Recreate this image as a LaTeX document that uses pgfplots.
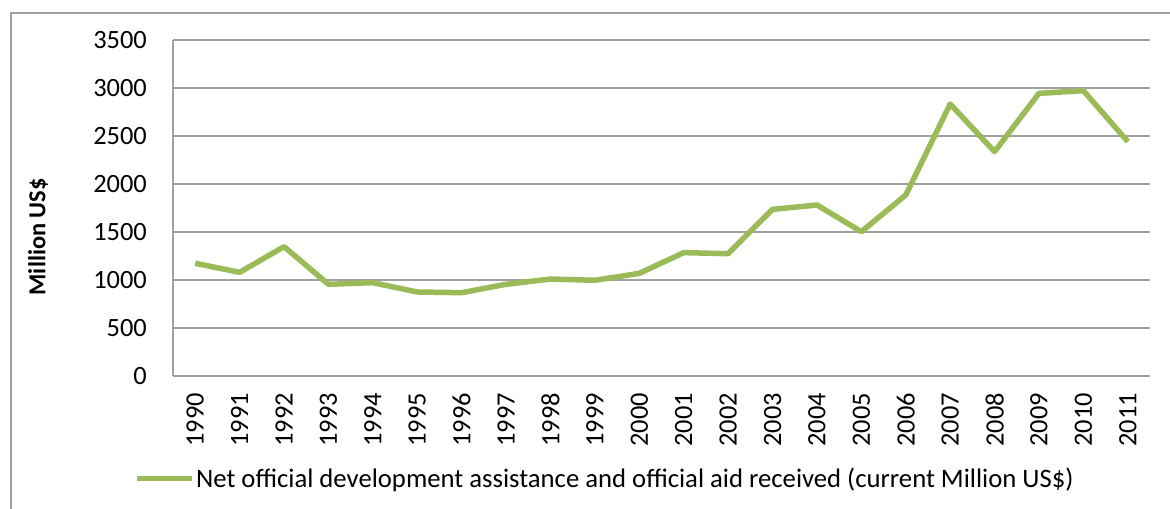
\documentclass[border=0pt]{standalone}
\usepackage{fontspec}
\setmainfont{Carlito}
\usepackage{pgfplots}
\pgfplotsset{compat=1.18}
\definecolor{aidgreen}{HTML}{9BBB59}
\definecolor{gridgray}{HTML}{A0A0A0}
\begin{document}
\begin{tikzpicture}[x=1bp,y=1bp]
\useasboundingbox (0,0) rectangle (1170,509);
\draw[gridgray, line width=1.5bp] (11,-5) -- (11,496) -- (1175,496);
\begin{axis}[
  at={(173bp,133bp)}, anchor=south west,
  width=977bp, height=336bp, scale only axis,
  xmin=-0.5, xmax=21.5, ymin=0, ymax=3500,
  ytick={0,500,...,3500},
  xtick={0,...,21},
  xticklabels={1990,1991,1992,1993,1994,1995,1996,1997,1998,1999,2000,2001,2002,2003,2004,2005,2006,2007,2008,2009,2010,2011},
  ymajorgrids,
  grid style={gridgray, line width=1.5bp},
  axis x line*=bottom, axis y line*=left,
  axis line style={gridgray, line width=1.5bp, -},
  major tick length=0pt,
  /pgf/number format/assume math mode=true,
  /pgf/number format/1000 sep={},
  tick label style={font=\fontsize{26.5}{31}\selectfont, text=black},
  y tick label style={anchor=east, inner sep=0pt, xshift=-26bp},
  x tick label style={yshift=-17bp, rotate=90, anchor=east, inner sep=0pt},
  ylabel={Million US\$},
  ylabel style={at={(axis description cs:-0.138,0.414)}, anchor=center, font=\fontsize{24.5}{28}\selectfont\bfseries},
  legend style={at={(axis description cs:0.442,-0.304)}, anchor=center, draw=none, fill=none, font=\fontsize{26.8}{31}\selectfont, inner sep=0pt},
  legend image code/.code={\draw[#1, line width=5bp] (0bp,0bp) -- (55bp,0bp);},
]
\addplot[aidgreen, line width=5.5bp, line join=round, mark=none] coordinates {
(0,1174) (1,1080) (2,1347) (3,955) (4,972) (5,875) (6,868) (7,955) (8,1010) (9,997)
(10,1069) (11,1285) (12,1274) (13,1736) (14,1781) (15,1503) (16,1885) (17,2833)
(18,2337) (19,2944) (20,2972) (21,2441)
};
\addlegendentry{Net official development assistance and official aid received (current Million US\$)}
\end{axis}
\end{tikzpicture}
\end{document}
